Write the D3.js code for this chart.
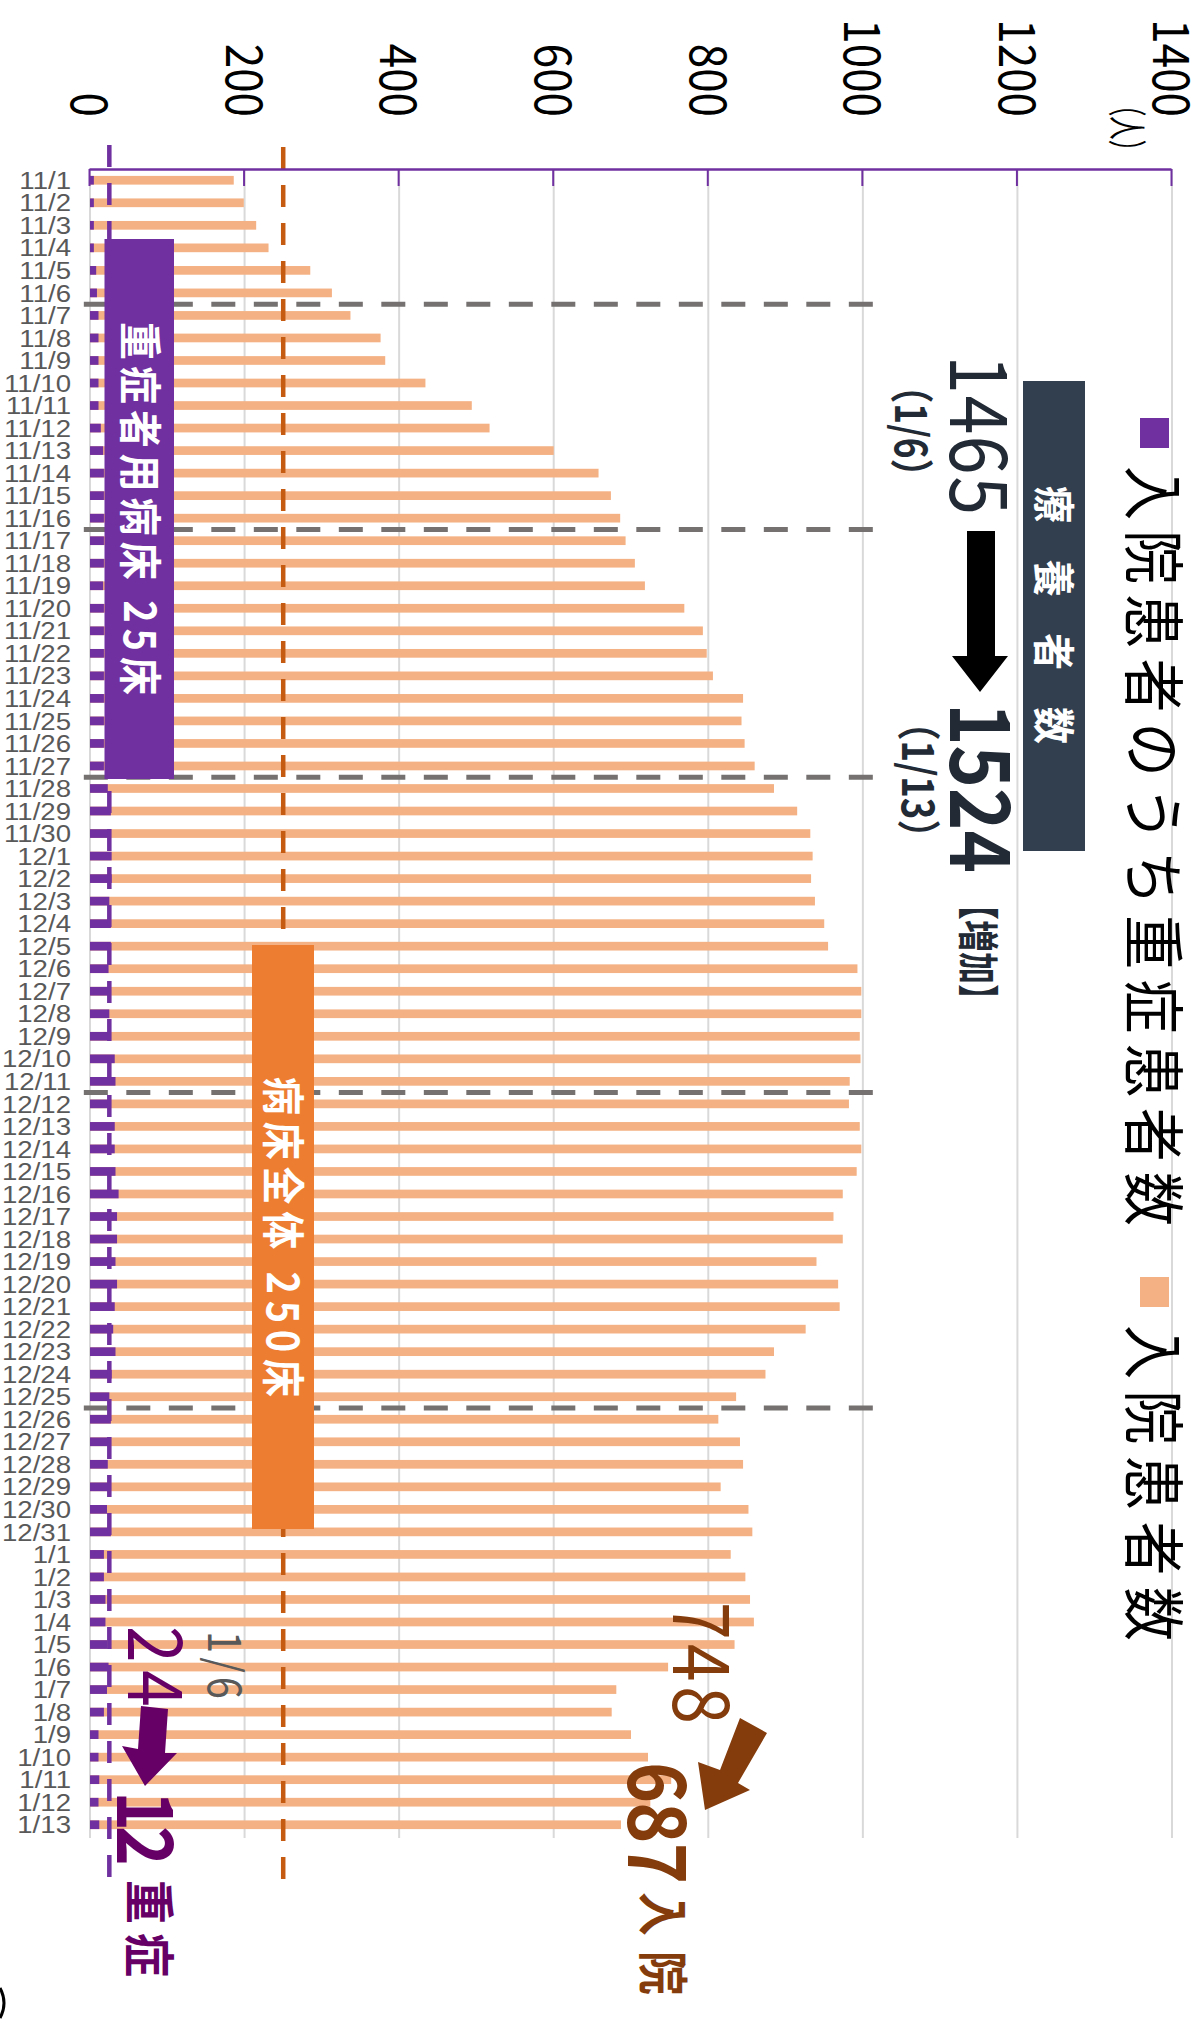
<!DOCTYPE html>
<html>
<head>
<meta charset="utf-8">
<script src="https://cdn.jsdelivr.net/npm/d3@7"></script>
<style>
  html, body { margin: 0; padding: 0; background: #fff; }
  svg { display: block; }
</style>
</head>
<body>
<script>
// Daily inpatients and severe cases, 11/1 - 1/13
const dates = [
  "11/1","11/2","11/3","11/4","11/5","11/6","11/7","11/8","11/9","11/10",
  "11/11","11/12","11/13","11/14","11/15","11/16","11/17","11/18","11/19","11/20",
  "11/21","11/22","11/23","11/24","11/25","11/26","11/27","11/28","11/29","11/30",
  "12/1","12/2","12/3","12/4","12/5","12/6","12/7","12/8","12/9","12/10",
  "12/11","12/12","12/13","12/14","12/15","12/16","12/17","12/18","12/19","12/20",
  "12/21","12/22","12/23","12/24","12/25","12/26","12/27","12/28","12/29","12/30","12/31",
  "1/1","1/2","1/3","1/4","1/5","1/6","1/7","1/8","1/9","1/10","1/11","1/12","1/13"
];
const inpatients = [
  186,199,215,231,285,313,337,376,382,434,
  494,517,600,658,674,686,693,705,718,769,
  793,798,806,845,843,847,860,885,915,932,
  935,933,938,950,955,993,998,998,996,997,
  983,982,996,998,992,974,962,974,940,968,
  970,926,885,874,836,813,841,845,816,852,857,
  829,848,854,859,834,748,681,675,700,722,752,725,687
];
const severe = [
  5,5,5,5,8,9,11,11,11,11,
  11,14,17,18,18,18,18,18,17,18,
  18,18,18,18,18,18,18,23,27,27,
  28,28,25,27,27,24,27,25,27,32,
  33,27,32,32,33,37,35,35,33,35,
  32,30,33,28,25,27,27,23,27,22,27,
  18,18,20,20,22,24,22,18,11,11,12,11,12
];
const valueTicks = [0,200,400,600,800,1000,1200,1400];
const separatorDates = ["11/7","11/17","11/28","12/12","12/26"];
const severeBeds = 25;
const totalBeds = 250;
const seriesNames = ["入院患者のうち重症患者数", "入院患者数"];

const W = 1202, H = 2020;
const C = {
  total: "#F4B183", severe: "#7030A0", grid: "#D9D9D9", sep: "#767171",
  bedLine: "#C55A11", bedBox: "#ED7D31", navy: "#323F4F", ink: "#222A35",
  brown: "#843C0C", plum: "#660066", label: "#595959"
};
const JP = "'Noto Sans CJK JP','Noto Sans',sans-serif";
const K = 1.15; // glyph stretch across the reading direction

const svg = d3.select("body").append("svg").attr("width", W).attr("height", H);
svg.append("rect").attr("width", W).attr("height", H).attr("fill", "#fff");

// The column chart is laid out in its own frame and turned a quarter clockwise
const g = svg.append("g").attr("transform", `translate(${W},0) rotate(90)`);

const x = d3.scaleBand().domain(dates).range([169, 1836]).padding(0);
const y = d3.scaleLinear().domain([0, 1400]).range([1112, 30]);
const barW = 8.7;

// gridlines
g.append("g").selectAll("line").data(valueTicks).join("line")
  .attr("x1", 169).attr("x2", 1838)
  .attr("y1", d => y(d)).attr("y2", d => y(d))
  .attr("stroke", C.grid).attr("stroke-width", 2);

// bars: total inpatients, severe cases on top
g.append("g").selectAll("rect").data(dates).join("rect")
  .attr("x", d => x(d) + (x.bandwidth() - barW) / 2)
  .attr("width", barW)
  .attr("y", (d, i) => y(inpatients[i]))
  .attr("height", (d, i) => y(0) - y(inpatients[i]))
  .attr("fill", C.total);
g.append("g").selectAll("rect").data(dates).join("rect")
  .attr("x", d => x(d) + (x.bandwidth() - barW) / 2)
  .attr("width", barW)
  .attr("y", (d, i) => y(severe[i]))
  .attr("height", (d, i) => y(0) - y(severe[i]))
  .attr("fill", C.severe);

// period separators
g.append("g").selectAll("line").data(separatorDates).join("line")
  .attr("x1", d => x(d)).attr("x2", d => x(d))
  .attr("y1", y(-8)).attr("y2", y(1020))
  .attr("stroke", C.sep).attr("stroke-width", 5)
  .attr("stroke-dasharray", "24,18.5");

// bed capacity lines
g.append("line").attr("x1", 145).attr("x2", 1886)
  .attr("y1", y(severeBeds)).attr("y2", y(severeBeds))
  .attr("stroke", C.severe).attr("stroke-width", 4.5).attr("stroke-dasharray", "22,16");
g.append("line").attr("x1", 147).attr("x2", 1888)
  .attr("y1", y(totalBeds)).attr("y2", y(totalBeds))
  .attr("stroke", C.bedLine).attr("stroke-width", 4.5).attr("stroke-dasharray", "22,16");

// value axis
const yAxis = d3.axisLeft(y).tickValues(valueTicks).tickFormat(d3.format("d"))
  .tickSizeInner(-17).tickSizeOuter(0).tickPadding(52);
const ya = g.append("g").attr("transform", "translate(169,0)").call(yAxis);
ya.select(".domain").attr("stroke", C.severe).attr("stroke-width", 2.5);
ya.selectAll(".tick line").attr("stroke", C.severe).attr("stroke-width", 2);
ya.selectAll(".tick text")
  .attr("font-family", JP).attr("font-size", 44).attr("fill", "#000")
  .attr("dy", "0.36em").attr("transform", `scale(1,${K})`);

// category axis
const xAxis = d3.axisBottom(x).tickSize(0);
const xa = g.append("g").attr("transform", `translate(0,${y(0)})`).call(xAxis);
xa.select(".domain").remove();
xa.selectAll(".tick text")
  .attr("x", 0).attr("y", 0).attr("dy", "0.36em")
  .attr("text-anchor", "end")
  .attr("transform", `translate(0,19) rotate(-90) scale(${K},1)`)
  .attr("font-family", "'Liberation Sans',Arial,sans-serif")
  .attr("font-size", 24).attr("fill", C.label);

// text in the chart frame: start, length, centre line
function ltext(x0, len, yc, str, o) {
  const t = g.append("text")
    .attr("transform", `translate(${x0},${yc}) scale(1,${K})`)
    .attr("x", 0).attr("y", 0).attr("dy", "0.37em")
    .attr("font-family", JP).attr("font-size", o.size)
    .attr("font-weight", o.weight || 400).attr("fill", o.fill)
    .text(str);
  if (len) t.attr("textLength", len)
    .attr("lengthAdjust", o.squeeze ? "spacingAndGlyphs" : "spacing");
  return t;
}

// unit
ltext(93, 70, 75, "（人）", { size: 34, fill: "#000", squeeze: true });

// legend
g.append("rect").attr("x", 418).attr("y", 33).attr("width", 30).attr("height", 29).attr("fill", C.severe);
ltext(466, 760, 49, seriesNames[0], { size: 54, fill: "#000" });
g.append("rect").attr("x", 1277).attr("y", 33).attr("width", 30).attr("height", 29).attr("fill", C.total);
ltext(1325, 316, 49, seriesNames[1], { size: 54, fill: "#000" });

// bed capacity boxes
g.append("rect").attr("x", 239).attr("y", 1028).attr("width", 540).attr("height", 69.5).attr("fill", C.severe);
ltext(322, 373, 1062, "重症者用病床 25床", { size: 38, weight: 700, fill: "#fff" });
g.append("rect").attr("x", 945).attr("y", 888).attr("width", 584).attr("height", 62).attr("fill", C.bedBox);
ltext(1077, 320, 919, "病床全体 250床", { size: 38, weight: 700, fill: "#fff" });

// recuperating patients note
g.append("rect").attr("x", 381).attr("y", 117).attr("width", 470).attr("height", 62).attr("fill", C.navy);
ltext(486, 258, 148, "療養者数", { size: 37, weight: 700, fill: "#fff" });
ltext(355, 160, 222, "1465", { size: 70, fill: C.ink });
ltext(368, 126, 291, "（1/6）", { size: 38, weight: 700, fill: C.ink, squeeze: true });
ltext(703, 170, 221, "1524", { size: 72, weight: 700, fill: C.ink });
ltext(704, 152, 284, "（1/13）", { size: 38, weight: 700, fill: C.ink, squeeze: true });
ltext(888, 128, 224, "【増加】", { size: 36, weight: 700, fill: C.ink, squeeze: true });

// inpatient change note
ltext(1602, 122, 500, "748", { size: 68, fill: C.brown });
ltext(1762, 122, 544, "687", { size: 70, weight: 700, fill: C.brown });
ltext(1892, 103, 539, "入院", { size: 44, weight: 700, fill: C.brown });

// severe change note
ltext(1631, 68, 977, "1/6", { size: 40, fill: C.label });
ltext(1626, 81, 1046, "24", { size: 66, fill: C.plum });
ltext(1791, 75, 1056, "12", { size: 68, weight: 700, fill: C.plum });
ltext(1880, 97, 1053, "重症", { size: 44, weight: 700, fill: C.plum });

// arrows, drawn in page coordinates
const page = svg.append("g");
const poly = pts => "M" + pts.map(p => p.join(",")).join("L") + "Z";
page.append("path").attr("fill", "#000")
  .attr("d", poly([[967,531],[995,531],[995,656],[1008,656],[980,692],[952,656],[967,656]]));
page.append("path").attr("fill", C.brown)
  .attr("d", poly([[740,1718],[767,1733],[738,1783],[750,1790],[705,1810],[698,1762],[720,1770]]));
page.append("path").attr("fill", C.plum)
  .attr("d", poly([[141,1706],[168,1709],[165,1753],[177,1753],[145,1786],[122,1746],[138,1749]]));
page.append("path").attr("d", "M0,1988 Q8,2003 0,2018")
  .attr("fill", "none").attr("stroke", "#000").attr("stroke-width", 3);
</script>
</body>
</html>
